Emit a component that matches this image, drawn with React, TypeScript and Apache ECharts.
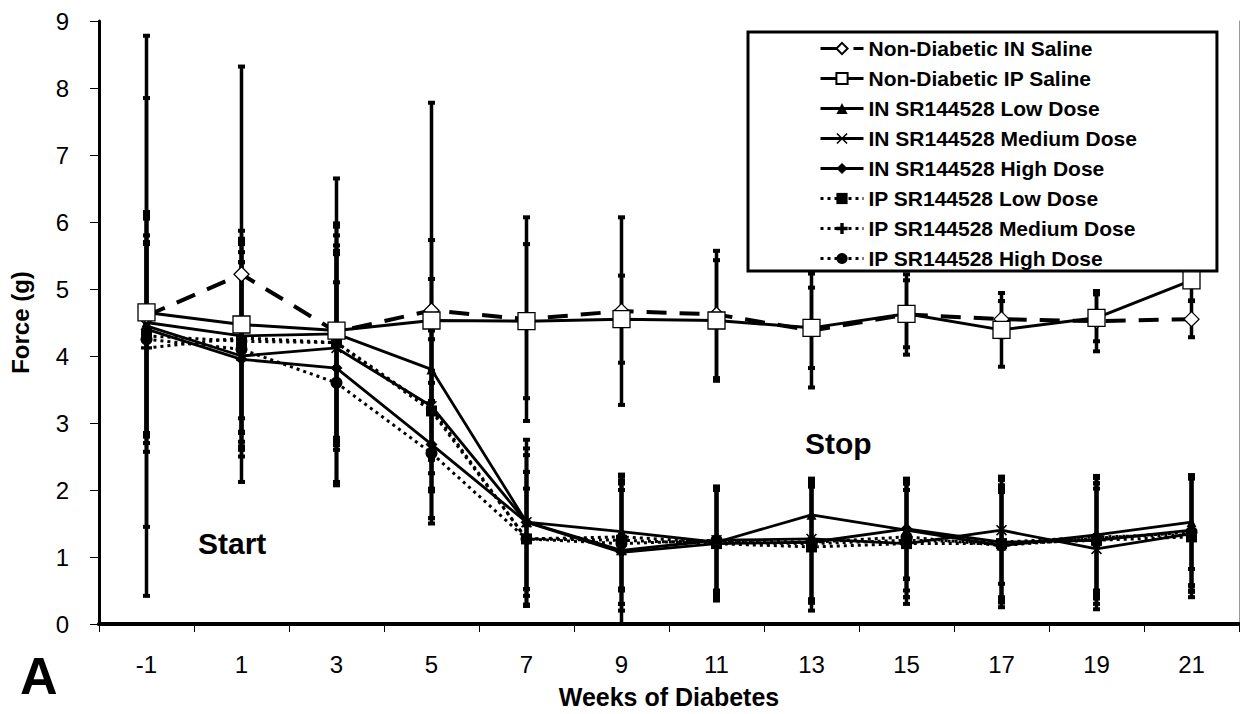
import React, { useEffect, useRef } from "react";
import * as echarts from "echarts";

const weeks = ["-1", "1", "3", "5", "7", "9", "11", "13", "15", "17", "19", "21"];

const inSalineMean = [4.6, 5.22, 4.36, 4.68, 4.55, 4.67, 4.62, 4.38, 4.62, 4.55, 4.52, 4.55];
const inSalineErr = [4.18, 3.1, 2.29, 3.1, 1.52, 1.4, 0.95, 0.85, 0.6, 0.27, 0.45, 0.27];

const ipSalineMean = [4.65, 4.47, 4.38, 4.53, 4.52, 4.55, 4.53, 4.42, 4.63, 4.39, 4.57, 5.13];
const ipSalineErr = [3.2, 1.4, 1.6, 1.2, 1.15, 0.65, 0.9, 0.6, 0.5, 0.55, 0.35, 0.3];

const inLowMean = [4.5, 4.3, 4.33, 3.8, 1.52, 1.38, 1.22, 1.63, 1.4, 1.17, 1.33, 1.52];
const inLowErr = [1.65, 1.45, 1.6, 1.35, 1.23, 0.85, 0.8, 0.52, 0.72, 0.85, 0.88, 0.7];

const inMedMean = [4.45, 4.0, 4.12, 3.25, 1.52, 1.1, 1.25, 1.27, 1.2, 1.4, 1.12, 1.35];
const inMedErr = [1.6, 1.4, 1.45, 1.0, 1.1, 0.9, 0.75, 0.9, 0.8, 0.8, 0.9, 0.85];

const inHighMean = [4.4, 3.95, 3.82, 2.68, 1.52, 1.07, 1.2, 1.22, 1.42, 1.22, 1.25, 1.4];
const inHighErr = [1.7, 1.45, 1.7, 1.1, 1.0, 1.07, 0.8, 0.9, 0.75, 0.82, 0.85, 0.82];

const ipLowMean = [4.3, 4.22, 4.2, 3.18, 1.27, 1.25, 1.2, 1.15, 1.2, 1.2, 1.25, 1.3];
const ipLowErr = [1.5, 1.5, 1.6, 1.2, 1.0, 0.95, 0.85, 0.95, 0.9, 0.95, 0.95, 0.9];

const ipMedMean = [4.12, 4.27, 4.2, 3.22, 1.27, 1.3, 1.22, 1.2, 1.25, 1.22, 1.3, 1.33];
const ipMedErr = [1.55, 1.4, 1.45, 1.2, 1.0, 0.8, 0.78, 0.85, 0.85, 0.85, 0.8, 0.85];

const ipHighMean = [4.25, 4.1, 3.6, 2.55, 1.27, 1.2, 1.25, 1.22, 1.3, 1.17, 1.28, 1.37];
const ipHighErr = [1.45, 1.45, 1.5, 1.05, 0.75, 0.9, 0.8, 0.9, 0.8, 0.8, 0.9, 0.8];

const FONT = 'Arial, "Liberation Sans", sans-serif';
const X_SYMBOL = "path://M0,1 L1,0 L5,4 L9,0 L10,1 L6,5 L10,9 L9,10 L5,6 L1,10 L0,9 L4,5 Z";
const PLUS_SYMBOL = "path://M3.5,0 H6.5 V3.5 H10 V6.5 H6.5 V10 H3.5 V6.5 H0 V3.5 H3.5 Z";

type Def = {
  name: string;
  mean: number[];
  err: number[];
  symbol: string;
  size: number;
  fill: string;
  dash: any;
  width: number;
  z: number;
};

const defs: Def[] = [
  { name: "Non-Diabetic IN Saline", mean: inSalineMean, err: inSalineErr, symbol: "diamond", size: 15, fill: "#fff", dash: [20, 13], width: 4, z: 6 },
  { name: "Non-Diabetic IP Saline", mean: ipSalineMean, err: ipSalineErr, symbol: "rect", size: 17, fill: "#fff", dash: "solid", width: 3, z: 7 },
  { name: "IN SR144528 Low Dose", mean: inLowMean, err: inLowErr, symbol: "triangle", size: 10, fill: "#000", dash: "solid", width: 2.8, z: 5 },
  { name: "IN SR144528 Medium Dose", mean: inMedMean, err: inMedErr, symbol: X_SYMBOL, size: 11, fill: "#000", dash: "solid", width: 2.8, z: 5 },
  { name: "IN SR144528 High Dose", mean: inHighMean, err: inHighErr, symbol: "diamond", size: 12, fill: "#000", dash: "solid", width: 2.8, z: 5 },
  { name: "IP SR144528 Low Dose", mean: ipLowMean, err: ipLowErr, symbol: "rect", size: 11, fill: "#000", dash: [3, 4], width: 3, z: 4 },
  { name: "IP SR144528 Medium Dose", mean: ipMedMean, err: ipMedErr, symbol: PLUS_SYMBOL, size: 11, fill: "#000", dash: [3, 4], width: 3, z: 4 },
  { name: "IP SR144528 High Dose", mean: ipHighMean, err: ipHighErr, symbol: "circle", size: 12, fill: "#000", dash: [3, 4], width: 3, z: 4 },
];

function renderErr(params: any, api: any) {
  const x = api.value(0);
  const lo = api.value(1);
  const hi = api.value(2);
  const t = api.coord([x, hi]);
  const b = api.coord([x, lo]);
  const cw = 3.5;
  const st = { stroke: "#000", lineWidth: 3.5 };
  const cap = { stroke: "#000", lineWidth: 4 };
  return {
    type: "group",
    children: [
      { type: "line", shape: { x1: t[0], y1: t[1], x2: b[0], y2: b[1] }, style: st },
      { type: "line", shape: { x1: t[0] - cw, y1: t[1], x2: t[0] + cw, y2: t[1] }, style: cap },
      { type: "line", shape: { x1: b[0] - cw, y1: b[1], x2: b[0] + cw, y2: b[1] }, style: cap },
    ],
  };
}

export default function App() {
  const ref = useRef<HTMLDivElement>(null);
  useEffect(() => {
    if (!ref.current) return;
    const chart = echarts.init(ref.current, null, { renderer: "svg" });
    const series: any[] = [];
    defs.forEach((d) => {
      series.push({
        name: d.name + " SEM",
        type: "custom",
        renderItem: renderErr,
        data: d.mean.map((m, i) => [i, Math.max(0, m - d.err[i]), m + d.err[i]]),
        encode: { x: 0, y: [1, 2] },
        z: 1,
        silent: true,
      });
    });
    defs.forEach((d) => {
      series.push({
        name: d.name,
        type: "line",
        data: d.mean,
        symbol: d.symbol,
        symbolSize: d.size,
        showAllSymbol: true,
        z: d.z,
        lineStyle: { color: "#000", width: d.width, type: d.dash },
        itemStyle: { color: d.fill, borderColor: "#000", borderWidth: d.fill === "#fff" ? 1.3 : 0 },
        emphasis: { disabled: true },
      });
    });
    chart.setOption({
      animation: false,
      backgroundColor: "#fff",
      textStyle: { fontFamily: FONT },
      grid: { left: 99, top: 21, width: 1140, bottom: 89 },
      legend: {
        data: defs.map((d) => d.name),
        orient: "vertical",
        left: 748,
        top: 32,
        padding: [6, 80, 2, 71],
        itemGap: 9,
        itemWidth: 43,
        itemHeight: 14,
        borderColor: "#000",
        borderWidth: 3,
        backgroundColor: "#fff",
        selectedMode: false,
        lineStyle: { width: 3 },
        textStyle: { fontSize: 21, fontWeight: "bold", color: "#000", fontFamily: FONT, lineHeight: 14 },
      },
      xAxis: [
        {
          type: "category",
          data: weeks,
          boundaryGap: true,
          name: "Weeks of Diabetes",
          nameLocation: "middle",
          nameGap: 60,
          nameTextStyle: { fontSize: 25, fontWeight: "bold", color: "#000", fontFamily: FONT },
          axisLine: { lineStyle: { color: "#000", width: 4 } },
          axisTick: { show: true, length: 8, lineStyle: { color: "#000", width: 1 } },
          axisLabel: { fontSize: 24, color: "#000", margin: 28, fontFamily: FONT },
          splitLine: { show: false },
        },
        {
          type: "category",
          data: weeks,
          position: "top",
          axisLine: { lineStyle: { color: "#000", width: 3 } },
          axisTick: { show: false },
          axisLabel: { show: false },
        },
      ],
      yAxis: [
        {
          type: "value",
          min: 0,
          max: 9,
          interval: 1,
          name: "Force (g)",
          nameLocation: "middle",
          nameGap: 67,
          nameTextStyle: { fontSize: 24, fontWeight: "bold", color: "#000", fontFamily: FONT },
          axisLine: { show: true, lineStyle: { color: "#000", width: 3 } },
          axisTick: { show: true, length: 9, lineStyle: { color: "#000", width: 1 } },
          axisLabel: { fontSize: 24, color: "#000", margin: 30, fontFamily: FONT },
          splitLine: { show: false },
        },
        {
          type: "value",
          min: 0,
          max: 9,
          interval: 1,
          position: "right",
          axisLine: { show: true, lineStyle: { color: "#999", width: 1 } },
          axisTick: { show: false },
          axisLabel: { show: false },
          splitLine: { show: false },
        },
      ],
      graphic: [
        { type: "text", x: 198, y: 543, style: { text: "Start", font: `bold 30px ${FONT}`, fill: "#000", textVerticalAlign: "middle" } },
        { type: "text", x: 805, y: 443, style: { text: "Stop", font: `bold 30px ${FONT}`, fill: "#000", textVerticalAlign: "middle" } },
        { type: "text", x: 20, y: 676, style: { text: "A", font: `bold 52px ${FONT}`, fill: "#000", textVerticalAlign: "middle" } },
      ],
      series,
    });
    return () => chart.dispose();
  }, []);
  return <div ref={ref} style={{ position: "absolute", left: 0, top: 0, width: 1240, height: 714 }} />;
}
